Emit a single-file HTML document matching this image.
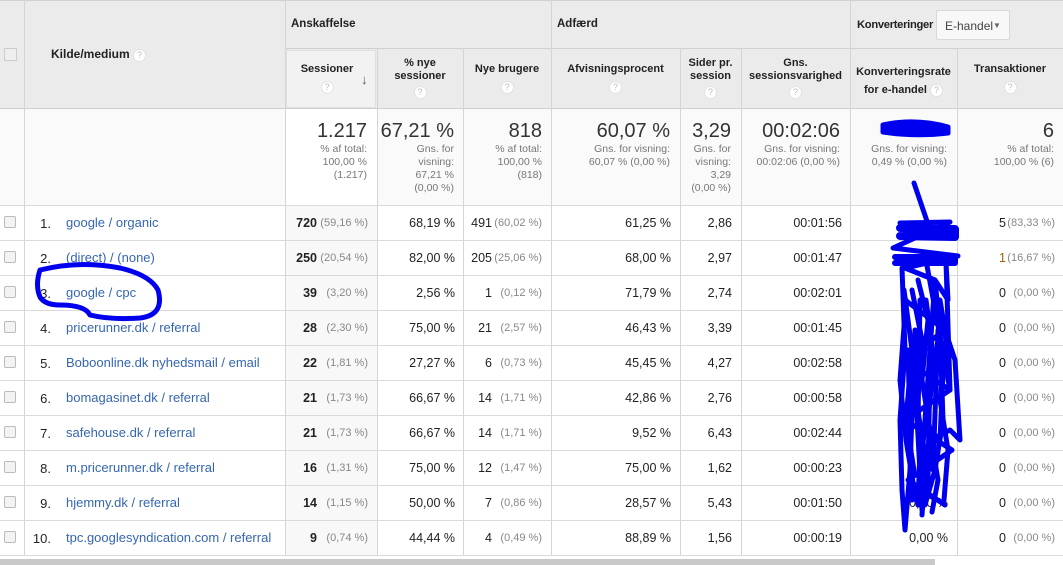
<!DOCTYPE html>
<html><head><meta charset="utf-8"><style>
*{margin:0;padding:0;box-sizing:border-box}
body{width:1063px;height:565px;overflow:hidden;background:#fff;font-family:"Liberation Sans",Arial,sans-serif;position:relative;color:#222}
.a{position:absolute}
.hl{position:absolute;height:1px;background:#dadada}
.vl{position:absolute;width:1px;background:#d5d5d5}
.h{font-size:11px;font-weight:bold;color:#222;text-align:center;line-height:13px}
.q{display:inline-block;width:13px;height:13px;border-radius:50%;background:#fff;border:1px solid #e2e2e2;color:#bbb;font-size:9px;line-height:11px;text-align:center;font-weight:normal}
.big{font-size:20px;color:#333;text-align:right}
.sm{font-size:10.5px;color:#777;text-align:right;line-height:13px}
.c{font-size:12.5px;text-align:right;color:#222}
.g{font-size:11px;color:#888}
.lk{color:#3566b0;font-size:13px}
.cb{position:absolute;left:4px;width:12px;height:12px;border:1px solid #bbb;border-radius:2px;background:#f3f3f3}
</style></head><body>
<div class="a" style="left:0;top:0;width:1063px;height:108px;background:#ebebeb"></div>
<div class="a" style="left:286px;top:50px;width:90px;height:58px;background:#f2f2f2;border:1px solid #e0e0e0"></div>
<div class="a" style="left:0;top:108px;width:1063px;height:97px;background:#fafafa"></div>
<div class="a" style="left:285px;top:108px;width:92px;height:97px;background:#fff"></div>
<div class="a" style="left:285px;top:205px;width:92px;height:350px;background:#f8f8f8"></div>
<div class="hl" style="left:0;top:0;width:1063px;background:#d0d0d0"></div>
<div class="hl" style="left:285px;top:48px;width:778px;background:#d0d0d0"></div>
<div class="hl" style="left:0;top:108px;width:1063px;background:#cfcfcf"></div>
<div class="hl" style="left:0;top:205px;width:1063px"></div>
<div class="hl" style="left:0;top:240px;width:1063px"></div>
<div class="hl" style="left:0;top:275px;width:1063px"></div>
<div class="hl" style="left:0;top:310px;width:1063px"></div>
<div class="hl" style="left:0;top:345px;width:1063px"></div>
<div class="hl" style="left:0;top:380px;width:1063px"></div>
<div class="hl" style="left:0;top:415px;width:1063px"></div>
<div class="hl" style="left:0;top:450px;width:1063px"></div>
<div class="hl" style="left:0;top:485px;width:1063px"></div>
<div class="hl" style="left:0;top:520px;width:1063px"></div>
<div class="hl" style="left:0;top:555px;width:1063px"></div>
<div class="vl" style="left:24px;top:0;height:555px"></div>
<div class="vl" style="left:285px;top:0;height:555px"></div>
<div class="vl" style="left:377px;top:48px;height:507px"></div>
<div class="vl" style="left:463px;top:48px;height:507px"></div>
<div class="vl" style="left:551px;top:0;height:555px"></div>
<div class="vl" style="left:680px;top:48px;height:507px"></div>
<div class="vl" style="left:741px;top:48px;height:507px"></div>
<div class="vl" style="left:850px;top:0;height:555px"></div>
<div class="vl" style="left:957px;top:48px;height:507px"></div>
<div class="a" style="left:0;top:559px;width:935px;height:6px;background:#c9c9c9"></div>
<div class="a" style="left:4px;top:48px;width:13px;height:13px;border:1px solid #ccc;background:#eee"></div>
<div class="a h" style="left:51px;top:48px;text-align:left;font-size:12px">Kilde/medium <span class="q">?</span></div>
<div class="a h" style="left:291px;top:18px;text-align:left;font-size:11.5px">Anskaffelse</div>
<div class="a h" style="left:557px;top:18px;text-align:left;font-size:11.5px">Adfærd</div>
<div class="a h" style="left:857px;top:19px;text-align:left;font-size:11.2px;letter-spacing:-0.3px">Konverteringer</div>
<div class="a" style="left:936px;top:10px;width:74px;height:30px;background:#f8f8f8;border:1px solid #d8d8d8;border-radius:2px;font-size:12px;color:#444;padding:8px 0 0 8px;white-space:nowrap">E-handel<span style="position:absolute;left:56px;top:10px;font-size:8px;color:#666">▼</span></div>
<div class="a h" style="left:285px;top:63px;width:84px">Sessioner<br><span class="q" style="margin-top:5px">?</span></div>
<div class="a" style="left:361px;top:72px;font-size:13px;color:#555">↓</div>
<div class="a h" style="left:377px;top:57px;width:86px">% nye<br>sessioner<br><span class="q" style="margin-top:3px">?</span></div>
<div class="a h" style="left:463px;top:63px;width:88px">Nye brugere<br><span class="q" style="margin-top:5px">?</span></div>
<div class="a h" style="left:551px;top:63px;width:129px">Afvisningsprocent<br><span class="q" style="margin-top:5px">?</span></div>
<div class="a h" style="left:680px;top:57px;width:61px">Sider pr.<br>session<br><span class="q" style="margin-top:3px">?</span></div>
<div class="a h" style="left:741px;top:57px;width:109px">Gns.<br>sessionsvarighed<br><span class="q" style="margin-top:3px">?</span></div>
<div class="a h" style="left:850px;top:63px;width:107px;line-height:18px">Konverteringsrate<br>for e-handel <span class="q">?</span></div>
<div class="a h" style="left:957px;top:63px;width:106px">Transaktioner<br><span class="q" style="margin-top:5px">?</span></div>
<div class="a" style="left:285px;top:120px;width:82px"><div class="big">1.217</div><div class="sm">% af total:<br>100,00 %<br>(1.217)</div></div>
<div class="a" style="left:377px;top:120px;width:77px"><div class="big">67,21 %</div><div class="sm">Gns. for<br>visning:<br>67,21 %<br>(0,00 %)</div></div>
<div class="a" style="left:463px;top:120px;width:79px"><div class="big">818</div><div class="sm">% af total:<br>100,00 %<br>(818)</div></div>
<div class="a" style="left:551px;top:120px;width:119px"><div class="big">60,07 %</div><div class="sm">Gns. for visning:<br>60,07 % (0,00 %)</div></div>
<div class="a" style="left:680px;top:120px;width:51px"><div class="big">3,29</div><div class="sm">Gns. for<br>visning:<br>3,29<br>(0,00 %)</div></div>
<div class="a" style="left:741px;top:120px;width:99px"><div class="big">00:02:06</div><div class="sm">Gns. for visning:<br>00:02:06 (0,00 %)</div></div>
<div class="a" style="left:850px;top:120px;width:97px"><div class="big">&nbsp;</div><div class="sm">Gns. for visning:<br>0,49 % (0,00 %)</div></div>
<div class="a" style="left:957px;top:120px;width:97px"><div class="big">6</div><div class="sm">% af total:<br>100,00 % (6)</div></div>
<div id="rows"></div>
<script>
var R=[
["1.","google / organic","720","(59,16 %)","68,19 %","491","(60,02 %)","61,25 %","2,86","00:01:56","","5","(83,33 %)"],
["2.","(direct) / (none)","250","(20,54 %)","82,00 %","205","(25,06 %)","68,00 %","2,97","00:01:47","","1","(16,67 %)"],
["3.","google / cpc","39","(3,20 %)","2,56 %","1","(0,12 %)","71,79 %","2,74","00:02:01","","0","(0,00 %)"],
["4.","pricerunner.dk / referral","28","(2,30 %)","75,00 %","21","(2,57 %)","46,43 %","3,39","00:01:45","","0","(0,00 %)"],
["5.","Boboonline.dk nyhedsmail / email","22","(1,81 %)","27,27 %","6","(0,73 %)","45,45 %","4,27","00:02:58","","0","(0,00 %)"],
["6.","bomagasinet.dk / referral","21","(1,73 %)","66,67 %","14","(1,71 %)","42,86 %","2,76","00:00:58","","0","(0,00 %)"],
["7.","safehouse.dk / referral","21","(1,73 %)","66,67 %","14","(1,71 %)","9,52 %","6,43","00:02:44","","0","(0,00 %)"],
["8.","m.pricerunner.dk / referral","16","(1,31 %)","75,00 %","12","(1,47 %)","75,00 %","1,62","00:00:23","","0","(0,00 %)"],
["9.","hjemmy.dk / referral","14","(1,15 %)","50,00 %","7","(0,86 %)","28,57 %","5,43","00:01:50","0,00 %","0","(0,00 %)"],
["10.","tpc.googlesyndication.com / referral","9","(0,74 %)","44,44 %","4","(0,49 %)","88,89 %","1,56","00:00:19","0,00 %","0","(0,00 %)"]];
var h="";
R.forEach(function(r,i){var t=205+i*35+11;
function rt(right,txt,cls,st){return '<div class="a '+(cls||'c')+'" style="right:'+(1063-right)+'px;top:'+t+'px;'+(st||'')+'">'+txt+'</div>';}
h+='<div class="cb" style="top:'+(t)+'px"></div>';
h+=rt(51,r[0],'c','font-size:13px');
h+='<div class="a lk" style="left:66px;top:'+(t-1)+'px">'+r[1]+'</div>';
h+=rt(317,r[2],'c','font-weight:bold');
h+=rt(368,r[3],'g','top:'+(t+1)+'px');
h+=rt(455,r[4]);
h+=rt(492,r[5]);
h+=rt(542,r[6],'g','top:'+(t+1)+'px');
h+=rt(671,r[7]);
h+=rt(732,r[8]);
h+=rt(842,r[9]);
h+=rt(948,r[10]);
h+=rt(1006,r[11],'c',i==1?'color:#a0620a':'');
h+=rt(1055,r[12],'g','top:'+(t+1)+'px');
});
document.getElementById('rows').innerHTML=h;
</script>
<svg class="a" style="left:0;top:0" width="1063" height="565">
<g fill="none" stroke="#0000ee" stroke-width="5" stroke-linejoin="round" stroke-linecap="round">
<path d="M883 125 Q915 118 948 127 L948 133 Q915 137 883 132 Z" fill="#0000ee"/>
<path d="M40 270 Q80 260 120 268 Q150 275 158 290 Q165 315 140 318 Q110 320 90 315 Q85 305 60 305 Q45 305 40 297 Q35 285 40 270"/>
<path d="M914 183 L930 230 L900 223 L950 222 L893 248 L958 256 L905 268 L935 280 L948 300 L946 262 L950 390 L925 255 L902 268 L905 350 L900 420 L902 490 L905 530 L910 470 L915 330 L920 450 L918 505 L925 420 L930 350 L935 280 L940 330 L943 420 L935 470 L925 505 L930 440 L950 430 L960 440 L955 360 L945 330 L940 300"/>
<path d="M900 228 L955 229 L955 237 L900 236" stroke-width="8"/>
<path d="M895 257 L955 257 L955 263 L895 263" stroke-width="6"/>
<path d="M908 350 L912 500 M915 380 L922 510 M930 360 L928 480 M938 330 L933 470 M920 300 L918 420 M944 350 L940 440"/>
<path d="M904 290 L912 350 L906 420 L914 470 L908 500 M912 290 L922 340 L916 400 L926 460 L922 515 M926 300 L934 360 L928 420 L938 480 L932 512 M934 290 L946 340 L940 400 L948 450 L944 500 M906 300 L900 380 L906 440 L916 500 M918 280 L928 320 L922 380 L930 430 L924 490"/>
<path d="M905 300 L945 330 L905 360 L950 390 L905 420 L952 450 L908 480 L945 505"/>
</g></svg>
</body></html>
